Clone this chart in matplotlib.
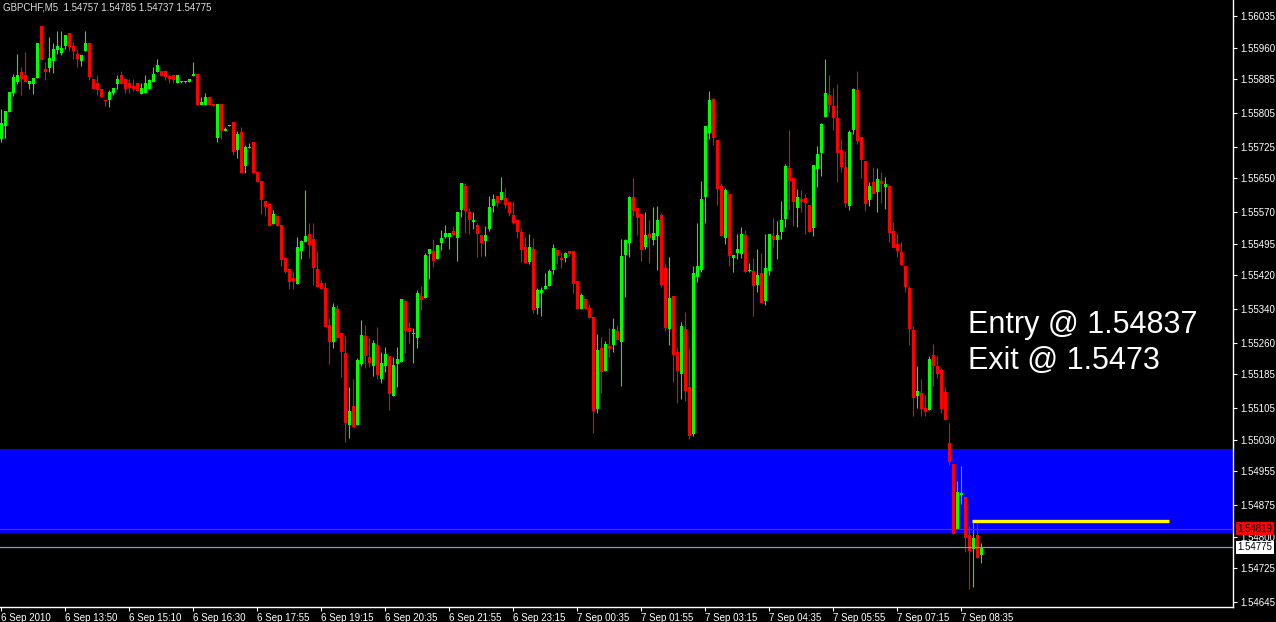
import numpy as np
import matplotlib
matplotlib.use('Agg')
import matplotlib.pyplot as plt
import matplotlib.transforms as mtrans

# GBPCHF M5 bars
opens = [
    1.55743, 1.55775, 1.55808, 1.55853, 1.55879, 1.55902, 1.55895, 1.55874, 1.55874, 1.55889,
    1.56011, 1.55909, 1.55912, 1.55929, 1.55955, 1.55948, 1.55964, 1.55995, 1.55964, 1.55945,
    1.55928, 1.55952, 1.55971, 1.55886, 1.55876, 1.55862, 1.55836, 1.55836, 1.55852, 1.55874,
    1.55895, 1.55886, 1.55876, 1.55869, 1.55876, 1.55850, 1.55852, 1.55862, 1.55879, 1.55902,
    1.55905, 1.55905, 1.55893, 1.55895, 1.55876, 1.55878, 1.55878, 1.55879, 1.55893, 1.55898,
    1.55824, 1.55824, 1.55843, 1.55826, 1.55746, 1.55826, 1.55762, 1.55774, 1.55784, 1.55717,
    1.55760, 1.55679, 1.55722, 1.55736, 1.55665, 1.55644, 1.55596, 1.55589, 1.55542, 1.55561,
    1.55539, 1.55461, 1.55435, 1.55414, 1.55399, 1.55478, 1.55499, 1.55518, 1.55506, 1.55435,
    1.55402, 1.55390, 1.55302, 1.55262, 1.55340, 1.55283, 1.55236, 1.55065, 1.55110, 1.55065,
    1.55210, 1.55276, 1.55226, 1.55205, 1.55255, 1.55174, 1.55205, 1.55229, 1.55134, 1.55210,
    1.55214, 1.55359, 1.55295, 1.55281, 1.55271, 1.55371, 1.55366, 1.55470, 1.55478, 1.55459,
    1.55497, 1.55511, 1.55511, 1.55525, 1.55508, 1.55575, 1.55632, 1.55570, 1.55546, 1.55539,
    1.55516, 1.55501, 1.55530, 1.55584, 1.55608, 1.55599, 1.55603, 1.55594, 1.55563, 1.55551,
    1.55523, 1.55487, 1.55451, 1.55482, 1.55342, 1.55378, 1.55388, 1.55395, 1.55433, 1.55480,
    1.55461, 1.55461, 1.55478, 1.55478, 1.55407, 1.55340, 1.55364, 1.55342, 1.55321, 1.55103,
    1.55247, 1.55193, 1.55252, 1.55255, 1.55288, 1.55262, 1.55468, 1.55497, 1.55606, 1.55580,
    1.55565, 1.55487, 1.55518, 1.55504, 1.55513, 1.55563, 1.55437, 1.55293, 1.55371, 1.55238,
    1.55186, 1.55293, 1.55155, 1.55044, 1.55416, 1.55433, 1.55606, 1.55758, 1.55838, 1.55741,
    1.55632, 1.55508, 1.55613, 1.55461, 1.55473, 1.55470, 1.55516, 1.55429, 1.55430, 1.55397,
    1.55425, 1.55359, 1.55430, 1.55513, 1.55504, 1.55523, 1.55553, 1.55674, 1.55651, 1.55580,
    1.55601, 1.55603, 1.55587, 1.55532, 1.55672, 1.55710, 1.55796, 1.55848, 1.55822, 1.55793,
    1.55717, 1.55677, 1.55584, 1.55765, 1.55860, 1.55748, 1.55691, 1.55599, 1.55641, 1.55618,
    1.55644, 1.55629, 1.55632, 1.55525, 1.55494, 1.55475, 1.55442, 1.55390, 1.55290, 1.55134,
    1.55141, 1.55105, 1.55100, 1.55231, 1.55205, 1.55195, 1.55143, 1.55022, 1.54972, 1.54818,
    1.54899, 1.54894, 1.54804, 1.54771, 1.54804, 1.54757,
]
highs = [
    1.55815, 1.55810, 1.55855, 1.55898, 1.55945, 1.55914, 1.55950, 1.55881, 1.55887, 1.55971,
    1.56011, 1.55926, 1.55985, 1.55971, 1.55999, 1.55999, 1.55990, 1.55995, 1.55973, 1.55954,
    1.55942, 1.55999, 1.55971, 1.55886, 1.55895, 1.55862, 1.55836, 1.55860, 1.55864, 1.55895,
    1.55905, 1.55886, 1.55886, 1.55886, 1.55876, 1.55876, 1.55895, 1.55886, 1.55914, 1.55933,
    1.55905, 1.55907, 1.55895, 1.55895, 1.55895, 1.55881, 1.55881, 1.55886, 1.55926, 1.55898,
    1.55843, 1.55852, 1.55843, 1.55826, 1.55826, 1.55826, 1.55772, 1.55776, 1.55784, 1.55762,
    1.55772, 1.55729, 1.55734, 1.55736, 1.55665, 1.55644, 1.55596, 1.55589, 1.55575, 1.55561,
    1.55539, 1.55461, 1.55435, 1.55428, 1.55511, 1.55504, 1.55622, 1.55544, 1.55544, 1.55478,
    1.55409, 1.55404, 1.55319, 1.55354, 1.55349, 1.55283, 1.55276, 1.55155, 1.55174, 1.55224,
    1.55314, 1.55302, 1.55271, 1.55266, 1.55297, 1.55238, 1.55250, 1.55229, 1.55226, 1.55250,
    1.55364, 1.55359, 1.55309, 1.55295, 1.55385, 1.55395, 1.55473, 1.55482, 1.55506, 1.55492,
    1.55527, 1.55539, 1.55520, 1.55537, 1.55570, 1.55639, 1.55639, 1.55580, 1.55570, 1.55544,
    1.55516, 1.55537, 1.55608, 1.55613, 1.55608, 1.55653, 1.55627, 1.55596, 1.55596, 1.55551,
    1.55532, 1.55511, 1.55518, 1.55508, 1.55390, 1.55392, 1.55425, 1.55435, 1.55494, 1.55480,
    1.55473, 1.55475, 1.55478, 1.55478, 1.55407, 1.55378, 1.55364, 1.55352, 1.55321, 1.55281,
    1.55274, 1.55264, 1.55295, 1.55319, 1.55302, 1.55506, 1.55506, 1.55608, 1.55651, 1.55580,
    1.55565, 1.55570, 1.55551, 1.55582, 1.55584, 1.55568, 1.55449, 1.55463, 1.55371, 1.55250,
    1.55309, 1.55333, 1.55247, 1.55442, 1.55544, 1.55644, 1.55774, 1.55857, 1.55841, 1.55741,
    1.55639, 1.55627, 1.55613, 1.55468, 1.55518, 1.55535, 1.55527, 1.55449, 1.55461, 1.55482,
    1.55473, 1.55518, 1.55518, 1.55556, 1.55549, 1.55596, 1.55684, 1.55765, 1.55651, 1.55625,
    1.55622, 1.55613, 1.55587, 1.55682, 1.55727, 1.55781, 1.55933, 1.55895, 1.55864, 1.55874,
    1.55743, 1.55715, 1.55765, 1.55864, 1.55905, 1.55748, 1.55691, 1.55641, 1.55677, 1.55674,
    1.55665, 1.55653, 1.55634, 1.55546, 1.55518, 1.55499, 1.55442, 1.55395, 1.55300, 1.55205,
    1.55174, 1.55136, 1.55229, 1.55257, 1.55229, 1.55200, 1.55155, 1.55070, 1.54972, 1.54932,
    1.54968, 1.54894, 1.54825, 1.54832, 1.54832, 1.54785,
]
lows = [
    1.55736, 1.55746, 1.55808, 1.55845, 1.55874, 1.55848, 1.55879, 1.55861, 1.55851, 1.55889,
    1.55931, 1.55884, 1.55903, 1.55901, 1.55946, 1.55943, 1.55957, 1.55952, 1.55933, 1.55914,
    1.55916, 1.55952, 1.55883, 1.55862, 1.55848, 1.55843, 1.55822, 1.55819, 1.55848, 1.55862,
    1.55874, 1.55852, 1.55852, 1.55857, 1.55857, 1.55850, 1.55852, 1.55862, 1.55879, 1.55902,
    1.55893, 1.55883, 1.55876, 1.55876, 1.55876, 1.55877, 1.55877, 1.55879, 1.55893, 1.55824,
    1.55824, 1.55824, 1.55824, 1.55822, 1.55736, 1.55743, 1.55762, 1.55774, 1.55705, 1.55698,
    1.55663, 1.55663, 1.55722, 1.55663, 1.55641, 1.55565, 1.55561, 1.55537, 1.55542, 1.55537,
    1.55442, 1.55425, 1.55388, 1.55388, 1.55399, 1.55459, 1.55499, 1.55461, 1.55397, 1.55392,
    1.55388, 1.55297, 1.55210, 1.55247, 1.55271, 1.55179, 1.55025, 1.55034, 1.55060, 1.55065,
    1.55205, 1.55200, 1.55202, 1.55181, 1.55174, 1.55164, 1.55191, 1.55100, 1.55134, 1.55155,
    1.55214, 1.55236, 1.55259, 1.55212, 1.55247, 1.55338, 1.55366, 1.55411, 1.55440, 1.55459,
    1.55480, 1.55508, 1.55482, 1.55513, 1.55454, 1.55558, 1.55520, 1.55518, 1.55530, 1.55463,
    1.55466, 1.55466, 1.55525, 1.55570, 1.55582, 1.55599, 1.55580, 1.55561, 1.55542, 1.55508,
    1.55451, 1.55449, 1.55447, 1.55331, 1.55328, 1.55323, 1.55388, 1.55395, 1.55423, 1.55447,
    1.55437, 1.55451, 1.55466, 1.55378, 1.55340, 1.55340, 1.55340, 1.55319, 1.55046, 1.55093,
    1.55141, 1.55193, 1.55226, 1.55238, 1.55266, 1.55157, 1.55369, 1.55463, 1.55561, 1.55516,
    1.55454, 1.55482, 1.55449, 1.55492, 1.55433, 1.55392, 1.55288, 1.55255, 1.55167, 1.55117,
    1.55127, 1.55122, 1.55032, 1.55039, 1.55404, 1.55428, 1.55544, 1.55743, 1.55729, 1.55587,
    1.55513, 1.55494, 1.55442, 1.55428, 1.55459, 1.55461, 1.55428, 1.55427, 1.55323, 1.55380,
    1.55354, 1.55349, 1.55421, 1.55487, 1.55459, 1.55506, 1.55535, 1.55575, 1.55537, 1.55535,
    1.55570, 1.55518, 1.55523, 1.55513, 1.55629, 1.55656, 1.55796, 1.55807, 1.55765, 1.55641,
    1.55665, 1.55582, 1.55575, 1.55755, 1.55731, 1.55651, 1.55572, 1.55584, 1.55613, 1.55570,
    1.55591, 1.55577, 1.55499, 1.55485, 1.55463, 1.55444, 1.55380, 1.55255, 1.55086, 1.55105,
    1.55086, 1.55086, 1.55100, 1.55157, 1.55176, 1.55093, 1.55077, 1.54970, 1.54806, 1.54818,
    1.54878, 1.54764, 1.54676, 1.54681, 1.54749, 1.54737,
]
closes = [
    1.55781, 1.55810, 1.55855, 1.55890, 1.55895, 1.55886, 1.55879, 1.55881, 1.55887, 1.55971,
    1.55931, 1.55903, 1.55935, 1.55957, 1.55964, 1.55959, 1.55990, 1.55962, 1.55952, 1.55933,
    1.55942, 1.55971, 1.55890, 1.55862, 1.55860, 1.55843, 1.55833, 1.55855, 1.55864, 1.55886,
    1.55874, 1.55862, 1.55864, 1.55862, 1.55857, 1.55864, 1.55876, 1.55883, 1.55898, 1.55919,
    1.55893, 1.55890, 1.55886, 1.55883, 1.55895, 1.55880, 1.55880, 1.55886, 1.55898, 1.55824,
    1.55831, 1.55843, 1.55824, 1.55822, 1.55826, 1.55762, 1.55767, 1.55776, 1.55712, 1.55755,
    1.55663, 1.55724, 1.55725, 1.55663, 1.55641, 1.55599, 1.55582, 1.55537, 1.55565, 1.55537,
    1.55456, 1.55428, 1.55404, 1.55407, 1.55487, 1.55502, 1.55513, 1.55492, 1.55437, 1.55392,
    1.55388, 1.55297, 1.55262, 1.55345, 1.55271, 1.55238, 1.55070, 1.55098, 1.55060, 1.55219,
    1.55278, 1.55229, 1.55212, 1.55259, 1.55183, 1.55212, 1.55233, 1.55138, 1.55207, 1.55221,
    1.55364, 1.55288, 1.55285, 1.55283, 1.55378, 1.55361, 1.55468, 1.55482, 1.55454, 1.55492,
    1.55508, 1.55520, 1.55520, 1.55516, 1.55570, 1.55639, 1.55572, 1.55551, 1.55551, 1.55518,
    1.55497, 1.55516, 1.55582, 1.55601, 1.55591, 1.55618, 1.55587, 1.55568, 1.55544, 1.55523,
    1.55480, 1.55449, 1.55487, 1.55338, 1.55385, 1.55385, 1.55395, 1.55430, 1.55485, 1.55466,
    1.55456, 1.55473, 1.55470, 1.55399, 1.55340, 1.55373, 1.55340, 1.55319, 1.55098, 1.55243,
    1.55191, 1.55257, 1.55245, 1.55293, 1.55266, 1.55466, 1.55504, 1.55606, 1.55572, 1.55556,
    1.55480, 1.55516, 1.55508, 1.55520, 1.55551, 1.55397, 1.55295, 1.55366, 1.55231, 1.55193,
    1.55300, 1.55146, 1.55039, 1.55425, 1.55442, 1.55601, 1.55774, 1.55836, 1.55746, 1.55625,
    1.55513, 1.55622, 1.55466, 1.55468, 1.55482, 1.55518, 1.55428, 1.55431, 1.55395, 1.55421,
    1.55354, 1.55437, 1.55518, 1.55504, 1.55516, 1.55551, 1.55679, 1.55644, 1.55594, 1.55606,
    1.55594, 1.55591, 1.55523, 1.55682, 1.55708, 1.55779, 1.55852, 1.55824, 1.55793, 1.55710,
    1.55677, 1.55591, 1.55760, 1.55862, 1.55739, 1.55693, 1.55589, 1.55632, 1.55613, 1.55648,
    1.55637, 1.55637, 1.55520, 1.55485, 1.55478, 1.55444, 1.55392, 1.55293, 1.55129, 1.55146,
    1.55103, 1.55096, 1.55221, 1.55205, 1.55186, 1.55103, 1.55077, 1.54977, 1.54806, 1.54906,
    1.54904, 1.54797, 1.54766, 1.54797, 1.54749, 1.54775,
]

time_labels = ['6 Sep 2010', '6 Sep 13:50', '6 Sep 15:10', '6 Sep 16:30', '6 Sep 17:55',
               '6 Sep 19:15', '6 Sep 20:35', '6 Sep 21:55', '6 Sep 23:15', '7 Sep 00:35',
               '7 Sep 01:55', '7 Sep 03:15', '7 Sep 04:35', '7 Sep 05:55', '7 Sep 07:15',
               '7 Sep 08:35']
price_ticks = [1.56035, 1.55960, 1.55885, 1.55805, 1.55725, 1.55650, 1.55570, 1.55495,
               1.55420, 1.55340, 1.55260, 1.55185, 1.55105, 1.55030, 1.54955, 1.54875,
               1.54800, 1.54725, 1.54645]

zone_top = 1.55008
zone_bottom = 1.54809
order_level = 1.54819
bid_level = 1.54775
entry = 1.54837
exit_price = 1.5473

small = 'Liberation Sans'

o = np.array(opens)
h = np.array(highs)
l = np.array(lows)
c = np.array(closes)
x = np.arange(len(o))
up = c >= o
cols = np.where(up, '#00ff00', '#ff0000')

W, H = 1276, 622
fig = plt.figure(figsize=(W / 100, H / 100), dpi=100, facecolor='black')
ax = fig.add_axes([0, 1 - 607 / H, 1233 / W, 607 / H])
ax.set_facecolor('black')

# supply/demand zone
ax.axhspan(zone_bottom, zone_top, color='#0000ff', zorder=1, lw=0)

# candles
ax.vlines(x, l, h, colors=cols, lw=0.8, zorder=2)
body_lo = np.minimum(o, c)
body_h = np.maximum(np.abs(c - o), 0.000025)
ax.bar(x, body_h, bottom=body_lo, width=0.75, color=cols, lw=0, zorder=3)

ax.axhline(order_level, color='#ff0000', lw=0.8, zorder=4)
ax.axhline(bid_level, color='#8898a8', lw=0.9, zorder=4)
ax.hlines(entry, 242.75, 292, color='#ffff00', lw=2.4, zorder=5)

ax.set_xlim(-0.25, 308)
ax.set_ylim(1.54633, 1.56073)

for s in ['left', 'top']:
    ax.spines[s].set_visible(False)
for s in ['right', 'bottom']:
    ax.spines[s].set_color('white')
    ax.spines[s].set_linewidth(1)

ax.yaxis.tick_right()
ax.set_yticks(price_ticks)
ax.set_yticklabels(['%.5f' % p for p in price_ticks], family=small)
ax.set_xticks(np.arange(0, 16 * len(time_labels), 16))
ax.set_xticklabels(time_labels, ha='left', family=small)
ax.tick_params(axis='both', colors='white', labelsize=7, length=3, width=0.8)
ax.tick_params(axis='y', pad=2)
ax.tick_params(axis='x', pad=1)

# price markers on the scale
tr = mtrans.blended_transform_factory(ax.transAxes, ax.transData)
ax.text(1.0035, order_level, '1.54819', transform=tr, fontsize=7, color='black',
        family=small, va='center', ha='left', clip_on=False, zorder=10,
        bbox=dict(boxstyle='square,pad=0.15', fc='#ff0000', ec='none'))
ax.text(1.0035, bid_level, '1.54775', transform=tr, fontsize=7, color='black',
        family=small, va='center', ha='left', clip_on=False, zorder=10,
        bbox=dict(boxstyle='square,pad=0.15', fc='white', ec='none'))

fig.text(3 / W, 1 - 8 / H, 'GBPCHF,M5  1.54757 1.54785 1.54737 1.54775',
         color='#dddddd', fontsize=7, family=small, va='center', ha='left')

ax.text(968 / 1233, 1 - 325 / 607, 'Entry @ %.5f' % entry, transform=ax.transAxes,
        color='white', fontsize=22, family='Liberation Sans', va='center', ha='left', zorder=6)
ax.text(968 / 1233, 1 - 361 / 607, 'Exit @ %s' % exit_price, transform=ax.transAxes,
        color='white', fontsize=22, family='Liberation Sans', va='center', ha='left', zorder=6)

fig.savefig('out.png', dpi=100, facecolor='black')
